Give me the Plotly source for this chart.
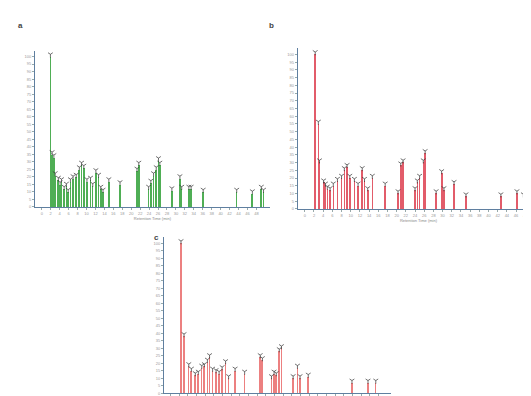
import plotly.graph_objects as go

# Panel a (green) - retention time (min) and relative abundance (%)
a_time = [1.93, 2.3, 2.7, 3.0, 3.7, 4.1, 4.4, 5.0, 5.5, 5.9, 6.4, 7.0, 7.7, 8.4, 8.9, 9.4,
          10.1, 10.9, 11.4, 12.1, 12.7, 13.2, 13.7, 15.0, 17.5, 21.3, 21.7, 23.9, 24.4, 25.0,
          25.6, 26.1, 26.4, 29.1, 30.9, 31.3, 32.9, 33.4, 36.1, 43.6, 47.1, 49.1, 49.6]
a_abund = [100, 35, 33, 21, 18, 15, 17, 12, 14, 10, 17, 19, 20, 25, 28, 26,
           17, 18, 14, 23, 20, 12, 10, 17, 15, 24, 28, 12, 16, 21,
           25, 31, 28, 11, 19, 12, 12, 12, 10, 10, 9, 12, 10]

# Panel b (red)
b_time = [2.26, 2.95, 3.2, 4.1, 4.5, 4.9, 5.5, 6.2, 7.1, 8.0, 8.6, 9.2, 9.8, 10.8, 11.6,
          12.5, 13.0, 13.7, 14.7, 17.5, 20.3, 20.9, 21.4, 24.0, 24.5, 25.0, 25.8, 26.2,
          28.6, 29.8, 30.3, 32.5, 35.1, 42.7, 46.2, 47.6, 48.6]
b_abund = [100, 55, 30, 17, 15, 13, 12, 15, 18, 20, 25, 27, 20, 18, 15,
           25, 18, 12, 20, 15, 10, 28, 30, 12, 17, 20, 30, 36,
           10, 23, 12, 16, 8, 8, 10, 8, 8]

# Panel c (pink)
c_time = [2.4, 3.1, 4.2, 4.8, 5.7, 6.4, 7.2, 7.8, 8.5, 9.0, 9.7, 10.5, 11.2, 11.9, 12.7,
          13.4, 14.9, 17.1, 20.7, 21.2, 23.3, 23.9, 24.4, 25.1, 25.6, 28.3, 29.3, 29.9,
          31.8, 41.9, 45.6, 47.4]
c_abund = [100, 38, 18, 15, 12, 13, 17, 18, 21, 24, 15, 14, 13, 16, 20,
           10, 15, 13, 24, 22, 10, 13, 12, 28, 30, 10, 17, 10,
           11, 7, 7, 7]

x_ticks = [0, 2, 4, 6, 8, 10, 12, 14, 16, 18, 20, 22, 24, 26, 28, 30, 32, 34, 36, 38, 40,
           42, 44, 46, 48]
x_title = "Retention Time (min)"

panels = [
    ("a", a_time, a_abund, "#4fae55", [0.051, 0.493], [0.495, 0.892], (0.023, 0.955), True),
    ("b", b_time, b_abund, "#e25c6a", [0.546, 1.0], [0.49, 0.898], (0.497, 0.955), True),
    ("c", c_time, c_abund, "#ec8080", [0.294, 0.722], [0.022, 0.418], (0.279, 0.418), False),
]

axis_col = "#5f7fa0"
fig = go.Figure()
annotations = []
for i, (name, t, ab, col, xd, yd, lab, show_x) in enumerate(panels):
    sfx = "" if i == 0 else str(i + 1)
    xa, ya = "x" + sfx, "y" + sfx
    fig.add_trace(go.Bar(x=t, y=ab, width=0.13, marker=dict(color=col, line=dict(width=0)),
                         xaxis=xa, yaxis=ya, showlegend=False))
    fig.add_trace(go.Scatter(x=t, y=[v + 1.5 for v in ab], mode="markers",
                             marker=dict(symbol="y-down", size=4, color="#333",
                                         line=dict(color="#333", width=0.7)),
                             xaxis=xa, yaxis=ya, showlegend=False))
    xkey = "xaxis" + sfx
    ykey = "yaxis" + sfx
    fig.layout[xkey] = dict(domain=xd, anchor=ya, range=[-1.5, 51], showgrid=False,
                            zeroline=False, showline=True, linecolor=axis_col, linewidth=1,
                            ticks="outside", ticklen=2, tickcolor="#9aa",
                            tickmode="array", tickvals=x_ticks, showticklabels=show_x,
                            tickfont=dict(size=4, color="#999"),
                            title=dict(text=x_title if show_x else "",
                                       font=dict(size=4, color="#888"), standoff=2))
    fig.layout[ykey] = dict(domain=yd, anchor=xa, range=[0, 104], showgrid=False,
                            zeroline=False, showline=True, linecolor=axis_col, linewidth=1.3,
                            ticks="outside", ticklen=2, tickcolor="#9aa",
                            tick0=0, dtick=5, tickfont=dict(size=4, color="#999"))
    annotations.append(dict(text="<b>%s</b>" % name, xref="paper", yref="paper",
                            x=lab[0], y=lab[1], xanchor="center", yanchor="middle",
                            showarrow=False, font=dict(size=8, color="#444", family="Arial")))

fig.update_layout(width=531, height=396, margin=dict(l=0, r=0, t=0, b=0),
                  paper_bgcolor="white", plot_bgcolor="white", bargap=0,
                  annotations=annotations, font=dict(family="Arial"))
fig.write_html("out.html")
